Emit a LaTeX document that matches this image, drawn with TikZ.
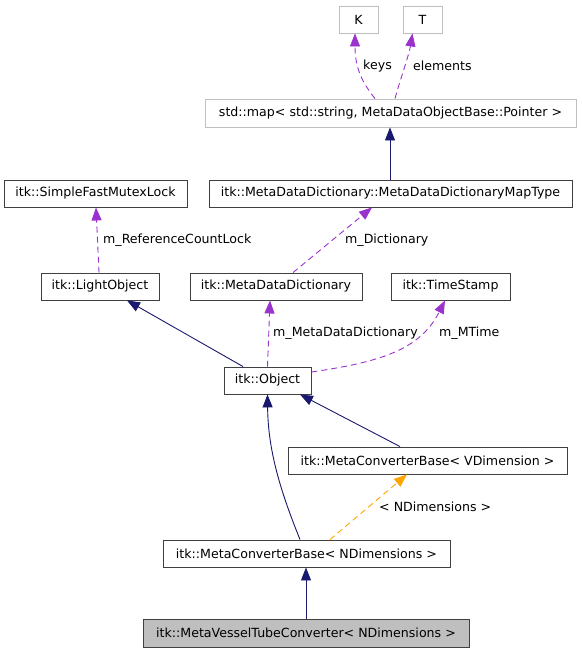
\documentclass[tikz,border=0pt]{standalone}
\usepackage{fontspec}
\setmainfont{DejaVu Sans}
\usetikzlibrary{arrows.meta}
\definecolor{navy}{HTML}{191970}
\definecolor{purp}{HTML}{9A32CD}
\definecolor{orng}{HTML}{FFA500}
\definecolor{boxgray}{HTML}{BFBFBF}
\definecolor{boxdark}{HTML}{404040}
\tikzset{
  txt/.style={font=\fontsize{12.6}{15}\selectfont},
  cls/.style={txt, draw=boxdark, line width=0.9pt, minimum height=27pt, inner sep=0pt},
  ext/.style={txt, draw=boxgray, line width=0.9pt, minimum height=27pt, inner sep=0pt},
  cur/.style={cls, fill=boxgray},
  lbl/.style={txt, inner sep=0pt, anchor=west},
  tip/.style={-{Triangle[length=13pt,width=10pt]}},
  inh/.style={tip, navy, line width=0.9pt},
  usg/.style={tip, purp, line width=0.9pt, dash pattern=on 6pt off 4pt},
  tpl/.style={tip, orng, line width=0.9pt, dash pattern=on 6pt off 4pt}
}
\begin{document}
\begin{tikzpicture}[x=1pt,y=-1pt]
\useasboundingbox (0,0) rectangle (581,653);
% nodes
\node[ext, minimum width=39pt] (K) at (358.5,19.5) {K};
\node[ext, minimum width=39pt] (T) at (422.5,19.5) {T};
\node[ext, minimum width=371pt, minimum height=28pt] (map) at (390.5,113) {std::map< std::string, MetaDataObjectBase::Pointer >};
\node[cls, minimum width=363pt] (mtype) at (390.5,193.5) {itk::MetaDataDictionary::MetaDataDictionaryMapType};
\node[cls, minimum width=183pt] (lock) at (95.5,193.5) {itk::SimpleFastMutexLock};
\node[cls, minimum width=118pt] (light) at (100,286.5) {itk::LightObject};
\node[cls, minimum width=172pt] (mdd) at (276,286.5) {itk::MetaDataDictionary};
\node[cls, minimum width=119pt] (ts) at (450.5,286.5) {itk::TimeStamp};
\node[cls, minimum width=87pt] (obj) at (267.5,380.5) {itk::Object};
\node[cls, minimum width=279pt] (mcbv) at (427.5,460.5) {itk::MetaConverterBase< VDimension >};
\node[cls, minimum width=287pt] (mcbn) at (306.5,553.5) {itk::MetaConverterBase< NDimensions >};
\node[cur, minimum width=326pt, minimum height=28pt] (mvtc) at (306,633) {itk::MetaVesselTubeConverter< NDimensions >};
% edges
\draw[usg] ([xshift=-15.5pt]map.north) .. controls (360,80) and (355,65) .. ([xshift=-3.5pt]K.south);
\node[lbl] (lkeys) at (363,66) {keys};
\draw[usg] ([xshift=4.5pt]map.north) .. controls (400,80) and (409,55) .. ([xshift=-10pt]T.south);
\node[lbl] (lelem) at (413,66) {elements};
\draw[inh] ([xshift=-0.5pt]mtype.north) -- ([xshift=-0.5pt]map.south);
\draw[usg] ([xshift=-1pt]light.north) -- ([xshift=0.5pt]lock.south);
\node[lbl] (lref) at (103,240) {m\_ReferenceCountLock};
\draw[usg] ([xshift=17pt]mdd.north) -- ([xshift=-18.5pt]mtype.south);
\node[lbl] (ldict) at (345,240) {m\_Dictionary};
\draw[inh] ([xshift=-24.5pt]obj.north) -- ([xshift=27pt]light.south);
\draw[usg] (obj.north) -- ([xshift=-6pt]mdd.south);
\node[lbl] (lmdd) at (273,333) {m\_MetaDataDictionary};
\draw[usg] ([yshift=8.5pt]obj.east) .. controls (380,362) and (420,350) .. ([xshift=-5.5pt]ts.south);
\node[lbl] (lmt) at (439,333) {m\_MTime};
\draw[inh] ([xshift=-6.5pt]mcbn.north) .. controls (280,490) and (268,450) .. (obj.south);
\draw[inh] ([xshift=-27.5pt]mcbv.north) -- ([xshift=32.5pt]obj.south);
\draw[tpl] ([xshift=23.5pt]mcbn.north) -- ([xshift=-20.5pt]mcbv.south);
\node[lbl] (lnd) at (379,507) {< NDimensions >};
\draw[inh] (mvtc.north) -- ([xshift=-0.5pt]mcbn.south);
\end{tikzpicture}
\end{document}
